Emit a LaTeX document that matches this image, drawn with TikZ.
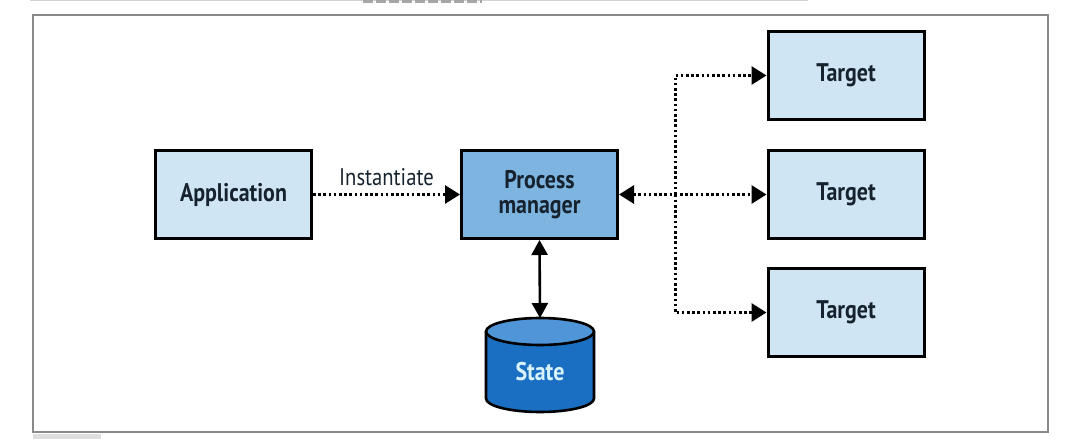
\documentclass[tikz,border=0pt]{standalone}
\usepackage{fontspec}
\setmainfont{PT Sans}[FakeStretch=0.86]
\usetikzlibrary{arrows.meta}
\definecolor{lightbox}{HTML}{CFE5F3}
\definecolor{midbox}{HTML}{7EB4E0}
\definecolor{cylbody}{HTML}{1B6FC2}
\definecolor{cyltop}{HTML}{4F95D8}
\definecolor{txt}{HTML}{16222E}
\definecolor{framegray}{HTML}{8A8A8A}
\begin{document}
\begin{tikzpicture}[x=1pt,y=-1pt,
  boxnode/.style={draw=black, line width=3pt, fill=lightbox, minimum width=156pt, minimum height=88pt, inner sep=0pt, text=txt, font=\fontsize{25.5}{27}\selectfont\bfseries, align=center},
  pmnode/.style={boxnode, fill=midbox},
  dotline/.style={line width=3pt, dash pattern=on 2.6pt off 2.6pt, draw=black},
  tip/.style={-{Triangle[length=15pt,width=18pt]}},
  dtip/.style={{Triangle[length=15pt,width=18pt]}-{Triangle[length=15pt,width=18pt]}},
]
\useasboundingbox (0,0) rectangle (1080,439);
% crop artefacts
\draw[gray!35, line width=1pt] (30,0.8) -- (808,0.8);
\draw[gray!70, line width=2.4pt, dash pattern=on 10pt off 3pt] (363,1.6) -- (482,1.6);
\fill[gray!25] (33,434) rectangle (101,439);
% frame
\draw[framegray, line width=1.4pt] (33,15) rectangle (1048,432);

\node[boxnode] (app) at (233.5,194.5) {Application};
\node[pmnode] (pm) at (539.5,194.5) {Process\\[-2pt]manager};
\node[boxnode] (t1) at (846,75.5) {Target};
\node[boxnode] (t2) at (846,194.5) {Target};
\node[boxnode] (t3) at (846,312.5) {Target};

% cylinder
\fill[cylbody] (486,331.5) -- (486,398.5) arc[start angle=180, end angle=0, x radius=54, y radius=13.5] -- (594,331.5) -- cycle;
\draw[black, line width=2.6pt] (486,331.5) -- (486,398.5) arc[start angle=180, end angle=0, x radius=54, y radius=13.5] -- (594,331.5);
\draw[black, line width=2.6pt, fill=cyltop] (540,331.5) ellipse[x radius=54, y radius=13.5];
\node[minimum width=108pt, minimum height=94pt, inner sep=0pt, text=white!85!cyan, font=\fontsize{25.5}{27}\selectfont\bfseries] (state) at (540,372) {State};
\coordinate (statetop) at (540,318);

% connectors
\draw[dotline, tip] (app.east) -- node[above=4pt, font=\fontsize{24}{26}\selectfont, text=txt] {Instantiate} (pm.west);
\draw[dotline, dtip] (pm.east) -- (t2.west);
\coordinate (br) at (675,194.5);
\draw[dotline, tip] (br) |- (t1.west);
\draw[dotline, tip] (br) |- (t3.west);
\draw[line width=2.6pt, draw=black, {Triangle[length=15pt,width=16pt]}-{Triangle[length=15pt,width=16pt]}] (pm.south) -- (statetop);
\end{tikzpicture}
\end{document}
